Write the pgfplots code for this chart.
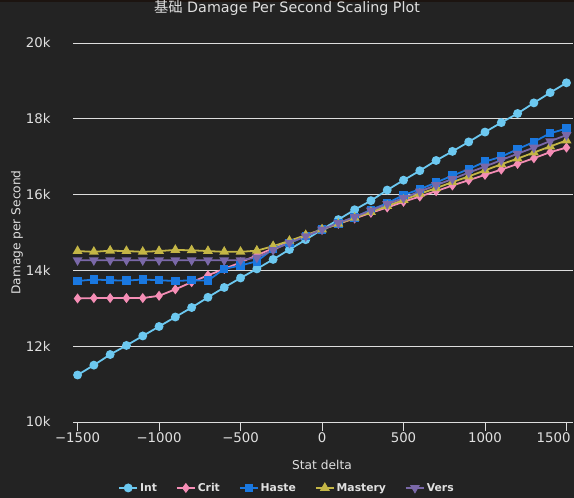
\documentclass[border=0pt]{standalone}
\usepackage{pgfplots}
\pgfplotsset{compat=1.18}
\usepackage{fontspec}
\setmainfont{DejaVu Sans}
\newfontfamily\cjk{Noto Sans CJK SC}
\definecolor{bg}{HTML}{232323}
\definecolor{topbar}{HTML}{1C1410}
\definecolor{txt}{HTML}{E0E0E0}
\definecolor{gridc}{HTML}{DDDDDD}
\definecolor{cint}{HTML}{6CC8F0}
\definecolor{ccrit}{HTML}{F58DB5}
\definecolor{chaste}{HTML}{1A78E0}
\definecolor{cmast}{HTML}{C4B646}
\definecolor{cvers}{HTML}{7A68A8}
\begin{document}
\begin{tikzpicture}[x=1pt,y=1pt]
\path[use as bounding box, fill=bg] (0,0) rectangle (574,498);
\fill[topbar] (0,495.5) rectangle (574,498);
\begin{axis}[
  at={(73pt,76pt)}, anchor=south west,
  scale only axis, width=500pt, height=379pt,
  xmin=-1528, xmax=1540, ymin=10000, ymax=20000,
  xtick={-1500,-1000,-500,0,500,1000,1500},
  xticklabels={−1500,−1000,−500,0,500,1000,\hspace*{8pt}\makebox[0pt][r]{1500}},
  ytick={10000,12000,14000,16000,18000,20000},
  yticklabels={10k,12k,14k,16k,18k,20k},
  scaled y ticks=false, scaled x ticks=false,
  axis line style={draw=none},
  ymajorgrids, grid style={gridc, line width=0.9pt},
  xtick pos=bottom, tick align=outside, major tick length=9pt,
  xtick style={gridc, line width=0.9pt},
  ytick style={draw=none},
  ticklabel style={txt, font=\fontsize{13.3}{15}\selectfont},
  xticklabel style={yshift=2pt},
  yticklabel style={xshift=-10pt},
  xlabel={Stat delta},
  xlabel style={txt, font=\fontsize{12.2}{14}\selectfont, at={(axis description cs:0.498,-0.113)}, anchor=center},
  ylabel={Damage per Second},
  ylabel style={txt, font=\fontsize{12.2}{14}\selectfont, at={(axis description cs:-0.112,0.5)}, anchor=center, rotate=0},
  title={{\cjk 基础} Damage Per Second Scaling Plot},
  title style={txt, font=\fontsize{14.3}{16}\selectfont, at={(axis description cs:0.428,1.077)}, anchor=center},
  legend columns=5,
  legend style={at={(axis description cs:0.428,-0.174)}, anchor=center, draw=none, fill=none,
    text=txt, font=\bfseries\fontsize{10.8}{12}\selectfont,
    /tikz/every even column/.append style={column sep=17pt}},
  legend image code/.code={\draw[#1] (0pt,0pt) -- (18pt,0pt); \draw[#1, mark repeat=2, mark phase=2] plot coordinates {(0pt,0pt) (9pt,0pt) (18pt,0pt)};},
  every axis plot/.append style={line width=1.8pt, mark options={solid}},
]
\addplot[cint, mark=*, mark size=3.5pt] coordinates {
(-1500,11240) (-1400,11500) (-1300,11780) (-1200,12020) (-1100,12270) (-1000,12520)
(-900,12770) (-800,13020) (-700,13290) (-600,13550) (-500,13800) (-400,14040)
(-300,14290) (-200,14550) (-100,14810) (0,15080) (100,15340) (200,15600)
(300,15840) (400,16120) (500,16380) (600,16630) (700,16900) (800,17140)
(900,17390) (1000,17650) (1100,17900) (1200,18140) (1300,18420) (1400,18690) (1500,18950)};
\addlegendentry{Int}
\addplot[ccrit, mark=diamond*, mark size=3.6pt] coordinates {
(-1500,13260) (-1400,13270) (-1300,13270) (-1200,13270) (-1100,13270) (-1000,13330)
(-900,13500) (-800,13690) (-700,13870) (-600,14040) (-500,14210) (-400,14400)
(-300,14580) (-200,14760) (-100,14920) (0,15080) (100,15230) (200,15370)
(300,15520) (400,15660) (500,15810) (600,15950) (700,16090) (800,16240)
(900,16380) (1000,16520) (1100,16660) (1200,16810) (1300,16960) (1400,17120) (1500,17240)};
\addlegendentry{Crit}
\addplot[chaste, mark=square*, mark size=3.3pt] coordinates {
(-1500,13720) (-1400,13760) (-1300,13740) (-1200,13730) (-1100,13760) (-1000,13740)
(-900,13720) (-800,13740) (-700,13730) (-600,14040) (-500,14130) (-400,14240)
(-300,14570) (-200,14720) (-100,14900) (0,15080) (100,15240) (200,15400)
(300,15600) (400,15770) (500,15990) (600,16140) (700,16320) (800,16500)
(900,16670) (1000,16870) (1100,17000) (1200,17200) (1300,17390) (1400,17620) (1500,17740)};
\addlegendentry{Haste}
\addplot[cmast, mark=triangle*, mark size=4pt] coordinates {
(-1500,14510) (-1400,14490) (-1300,14520) (-1200,14510) (-1100,14490) (-1000,14510)
(-900,14540) (-800,14530) (-700,14510) (-600,14490) (-500,14490) (-400,14520)
(-300,14640) (-200,14780) (-100,14930) (0,15080) (100,15230) (200,15390)
(300,15540) (400,15700) (500,15860) (600,16020) (700,16170) (800,16330)
(900,16480) (1000,16640) (1100,16800) (1200,16950) (1300,17110) (1400,17270) (1500,17430)};
\addlegendentry{Mastery}
\addplot[cvers, mark=triangle*, mark options={rotate=180}, mark size=4pt] coordinates {
(-1500,14270) (-1400,14270) (-1300,14270) (-1200,14270) (-1100,14270) (-1000,14270)
(-900,14270) (-800,14270) (-700,14270) (-600,14270) (-500,14270) (-400,14340)
(-300,14540) (-200,14730) (-100,14900) (0,15080) (100,15250) (200,15410)
(300,15580) (400,15750) (500,15910) (600,16080) (700,16250) (800,16410)
(900,16580) (1000,16740) (1100,16910) (1200,17080) (1300,17240) (1400,17410) (1500,17570)};
\addlegendentry{Vers}
\end{axis}
\end{tikzpicture}
\end{document}
